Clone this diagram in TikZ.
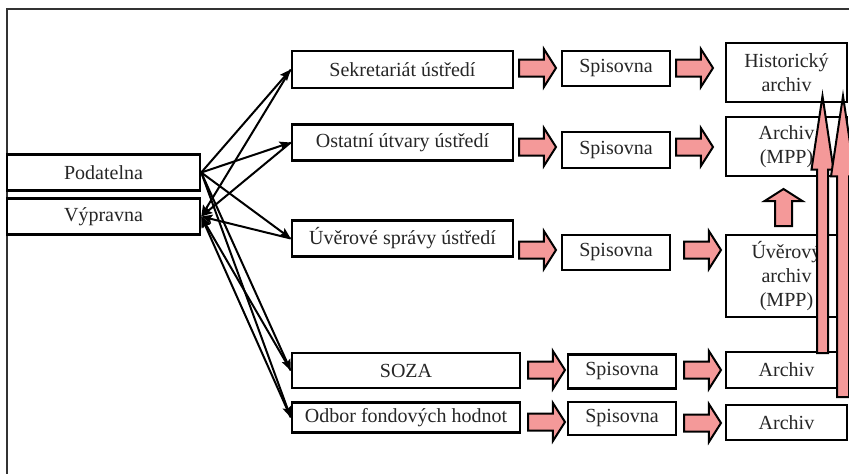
\documentclass[tikz,border=0pt]{standalone}
\usepackage{fontspec}
\setmainfont{Liberation Serif}
\usetikzlibrary{arrows.meta, shapes.arrows}
\definecolor{arrowpink}{RGB}{244,153,153}
\tikzset{
box/.style={draw, line width=2.5pt, inner sep=0pt, fill=white, align=center, text=black!85,
  font=\rmfamily\fontsize{20}{24}\selectfont}, % all the boxes
flow/.style={->, >={Stealth[length=11pt, width=9pt, inset=2pt]}, line width=2pt}, % thin black arrows
pinkarrow/.style={single arrow, draw, fill=arrowpink, line width=2pt, inner sep=7.5pt,
  single arrow head extend=10.5pt, single arrow tip angle=115, minimum height=37pt},
tallarrow/.style={pinkarrow, rotate=90, anchor=tail, single arrow tip angle=17},
}

\begin{document}
\begin{tikzpicture}[x=1pt, y=-1pt]
        \useasboundingbox (0,0) rectangle (849,474);
        \draw[line width=1.5pt, black!80] (7,474) -- (7,9) -- (849,9);

        % left side
        \node[box, minimum width=193pt, minimum height=36pt] (pod) at (103.5,172.5) {Podatelna};
        \node[box, minimum width=193pt, minimum height=36pt] (vyp) at (103.5,216.5) {Výpravna};

        % departments
        \node[box, minimum width=221pt, minimum height=37pt] (sekr) at (402.5,69.5) {Sekretariát ústředí};
        \node[box, minimum width=221pt, minimum height=36pt] (ost) at (402.5,142.5) {Ostatní útvary ústředí};
        \node[box, minimum width=221pt, minimum height=36pt] (uver) at (402.5,238.5) {Úvěrové správy ústředí};
        \node[box, minimum width=228pt, minimum height=35pt] (soza) at (406,370.5) {SOZA};
        \node[box, minimum width=228pt, minimum height=30pt] (odbor) at (406,417.5) {Odbor fondových hodnot};

        % spisovny
        \node[box, minimum width=108pt, minimum height=35pt] (spis1) at (616,68.5) {Spisovna};
        \node[box, minimum width=108pt, minimum height=36pt] (spis2) at (616,150) {Spisovna};
        \node[box, minimum width=108pt, minimum height=35pt] (spis3) at (616,252.5) {Spisovna};
        \node[box, minimum width=108pt, minimum height=34pt] (spis4) at (622,371.5) {Spisovna};
        \node[box, minimum width=108pt, minimum height=33pt] (spis5) at (622,418.5) {Spisovna};

        % archives
        \node[box, minimum width=121pt, minimum height=59pt] (hist) at (786.5,72.5) {Historický\\archiv};
        \node[box, minimum width=121pt, minimum height=59pt] (amp) at (786.5,146.5) {Archiv\\(MPP)};
        \node[box, minimum width=121pt, minimum height=82pt] (uva) at (786.5,276) {Úvěrový\\archiv\\(MPP)};
        \node[box, minimum width=121pt, minimum height=36pt] (arch4) at (786.5,370) {Archiv};
        \node[box, minimum width=121pt, minimum height=35pt] (arch5) at (786.5,422.5) {Archiv};

        % podatelna -> utvar -> vypravna
        \foreach \d in {sekr, ost, uver, soza, odbor} {
          \draw[flow] (pod.east) -- (\d.west);
          \draw[flow] (\d.west) -- (vyp.east);
        }

        % pink arrows between the boxes
        \foreach \x/\y [count=\i] in {518/68, 675/68, 518/147, 675/147, 518/250, 683/250,
                                       527/370, 683/370, 527/422, 683/423}
          \node[pinkarrow, anchor=tail] (pa\i) at (\x,\y) {};
        \node[pinkarrow, rotate=90, anchor=tail] (up) at (783.5,227) {};

        \node[tallarrow, inner sep=4.5pt, single arrow head extend=5.5pt, minimum height=257pt] (tallA) at (822.5,354) {};
        \node[tallarrow, inner sep=5pt, single arrow head extend=6pt, minimum height=301pt] (tallB) at (843,398) {};
      \end{tikzpicture}
\end{document}
